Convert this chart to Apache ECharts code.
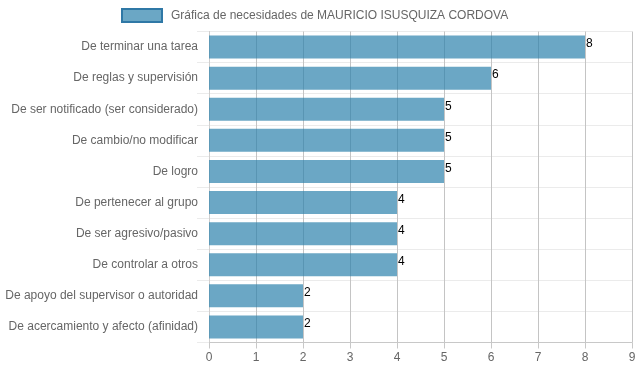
<!DOCTYPE html>
<html><head><meta charset="utf-8">
<script src="https://cdn.jsdelivr.net/npm/echarts@6/dist/echarts.min.js"></script>
<style>html,body{margin:0;padding:0;background:#fff}#c{width:639px;height:372px}</style>
</head><body><div id="c"></div>
<script>
const categories = [
  "De terminar una tarea",
  "De reglas y supervisión",
  "De ser notificado (ser considerado)",
  "De cambio/no modificar",
  "De logro",
  "De pertenecer al grupo",
  "De ser agresivo/pasivo",
  "De controlar a otros",
  "De apoyo del supervisor o autoridad",
  "De acercamiento y afecto (afinidad)"
];
const values = [8, 6, 5, 5, 5, 4, 4, 4, 2, 2];
const seriesName = "Gráfica de necesidades de MAURICIO ISUSQUIZA CORDOVA";
const xTicks = [0, 1, 2, 3, 4, 5, 6, 7, 8, 9];

const chart = echarts.init(document.getElementById('c'), null, {renderer: 'canvas'});
chart.setOption({
  animation: false,
  textStyle: {fontFamily: 'Liberation Sans, Arial, sans-serif'},
  legend: {
    top: 8, left: 121, padding: 0,
    icon: 'rect',
    itemWidth: 40, itemHeight: 13, itemGap: 8,
    textStyle: {color: '#666', fontSize: 12, padding: [0, 0, 0, 4], fontFamily: 'Liberation Sans, Arial, sans-serif'},
    data: [{name: seriesName, icon: 'rect', itemStyle: {color: 'rgba(107,167,197,1)', borderColor: '#2f78a6', borderWidth: 2}}]
  },
  grid: {left: 209, right: 7, top: 31.5, bottom: 29.5, containLabel: false},
  xAxis: {
    type: 'value', min: xTicks[0], max: xTicks[xTicks.length - 1], interval: 1,
    axisLine: {show: true, lineStyle: {color: '#c8c8c8'}},
    axisTick: {show: true, length: 6, lineStyle: {color: '#c8c8c8'}},
    axisLabel: {color: '#666', fontSize: 12, margin: 9},
    splitLine: {show: true, lineStyle: {color: '#c4c4c4'}}
  },
  yAxis: {
    type: 'category', data: categories, inverse: true,
    axisLine: {show: true, lineStyle: {color: '#cfcfcf'}},
    axisTick: {show: true, length: 12, lineStyle: {color: '#ebebeb'}},
    axisLabel: {color: '#666', fontSize: 12, margin: 11},
    splitLine: {show: true, lineStyle: {color: '#ebebeb'}}
  },
  series: [{
    name: seriesName, type: 'bar', data: values, barWidth: 23,
    itemStyle: {color: 'rgba(44,129,172,0.7)'},
    label: {show: true, position: 'right', distance: 1, offset: [0, -3], color: '#000', fontSize: 12}
  }]
});
</script></body></html>
